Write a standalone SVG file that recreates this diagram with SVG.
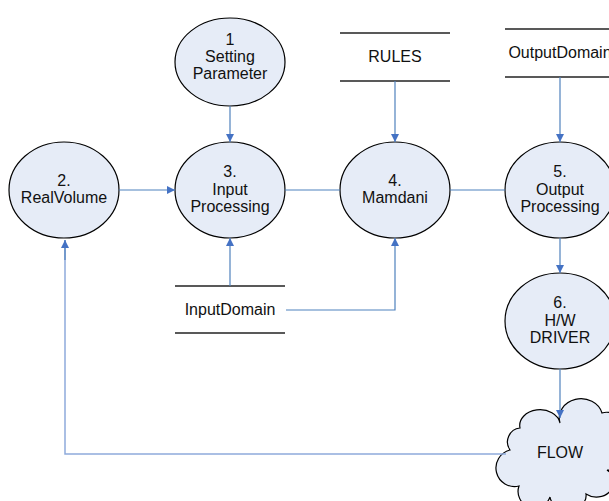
<svg xmlns="http://www.w3.org/2000/svg" width="609" height="501" viewBox="0 0 609 501">
<style>
.n{fill:#e6ecf7;stroke:#000;stroke-width:1.2}
.t{font-family:"Liberation Sans",Arial,sans-serif;font-size:16px;fill:#111;text-anchor:middle}
.c{fill:none;stroke:#4f81bd;stroke-width:1.2}
.l{fill:none;stroke:#8eaadb;stroke-width:1.5}
.s{stroke:#222;stroke-width:1.3}
</style>
<defs>
<marker id="a" viewBox="0 0 10 10" refX="10" refY="5" markerWidth="8" markerHeight="8" markerUnits="userSpaceOnUse" orient="auto">
<path d="M0,0 L10,5 L0,10 Z" fill="#4472c4"/>
</marker>
</defs>
<rect width="609" height="501" fill="#fff"/>
<g id="n1"><ellipse class="n" cx="230" cy="62" rx="55" ry="44"/>
<text class="t" x="230" y="45">1</text><text class="t" x="230" y="62">Setting</text><text class="t" x="230" y="79">Parameter</text></g>
<g id="n2"><ellipse class="n" cx="64" cy="190" rx="55" ry="48"/>
<text class="t" x="64" y="186">2.</text><text class="t" x="64" y="203">RealVolume</text></g>
<g id="n3"><ellipse class="n" cx="230" cy="190" rx="55" ry="48"/>
<text class="t" x="230" y="177">3.</text><text class="t" x="230" y="195">Input</text><text class="t" x="230" y="212">Processing</text></g>
<g id="n4"><ellipse class="n" cx="395" cy="190" rx="55" ry="48"/>
<text class="t" x="395" y="186">4.</text><text class="t" x="395" y="203">Mamdani</text></g>
<g id="n5"><ellipse class="n" cx="560" cy="190" rx="55" ry="48"/>
<text class="t" x="560" y="177">5.</text><text class="t" x="560" y="195">Output</text><text class="t" x="560" y="212">Processing</text></g>
<g id="n6"><ellipse class="n" cx="560" cy="321" rx="55" ry="48"/>
<text class="t" x="560" y="308">6.</text><text class="t" x="560" y="326">H/W</text><text class="t" x="560" y="343">DRIVER</text></g>
<g id="rules"><line class="s" x1="340" y1="33" x2="450" y2="33"/><line class="s" x1="340" y1="81" x2="450" y2="81"/>
<text class="t" x="395" y="62">RULES</text></g>
<g id="outputdomain"><line class="s" x1="505" y1="29" x2="615" y2="29"/><line class="s" x1="505" y1="77" x2="615" y2="77"/>
<text class="t" x="560" y="58">OutputDomain</text></g>
<g id="inputdomain"><line class="s" x1="175" y1="286" x2="285" y2="286" stroke="#555"/><line class="s" x1="175" y1="333" x2="285" y2="333" stroke="#555"/>
<text class="t" x="230" y="315">InputDomain</text></g>
<g id="flow"><path class="n" d="M510,450 A14,14 0 0 1 520,428 A18,14 0 0 1 560,423 A18,16 0 0 1 602,413 A14,14 0 0 1 611,440 A14,14 0 0 1 607,470 A16,14 0 0 1 586,494 A18,14 0 0 1 550,497 A14,14 0 0 1 519,486 A12,12 0 0 1 510,450 Z"/>
<text class="t" x="560" y="458">FLOW</text></g>
<g id="connectors">
<line class="c" x1="230" y1="106" x2="230" y2="142" marker-end="url(#a)"/>
<line class="c" x1="119" y1="190" x2="175" y2="190" marker-end="url(#a)"/>
<line class="c" x1="285" y1="190" x2="340" y2="190"/>
<line class="c" x1="450" y1="190" x2="505" y2="190"/>
<line class="c" x1="395" y1="81" x2="395" y2="142" marker-end="url(#a)"/>
<line class="c" x1="560" y1="77" x2="560" y2="142" marker-end="url(#a)"/>
<line class="c" x1="230" y1="286" x2="230" y2="238" marker-end="url(#a)"/>
<polyline class="c" points="286,310 395,310 395,238" marker-end="url(#a)"/>
<line class="c" x1="560" y1="238" x2="560" y2="273" marker-end="url(#a)"/>
<line class="c" x1="560" y1="369" x2="560" y2="418" marker-end="url(#a)"/>
<polyline class="l" points="506,454 65,454 65,240"/>
<line class="c" x1="65" y1="260" x2="65" y2="240" marker-end="url(#a)"/>
</g>
</svg>
